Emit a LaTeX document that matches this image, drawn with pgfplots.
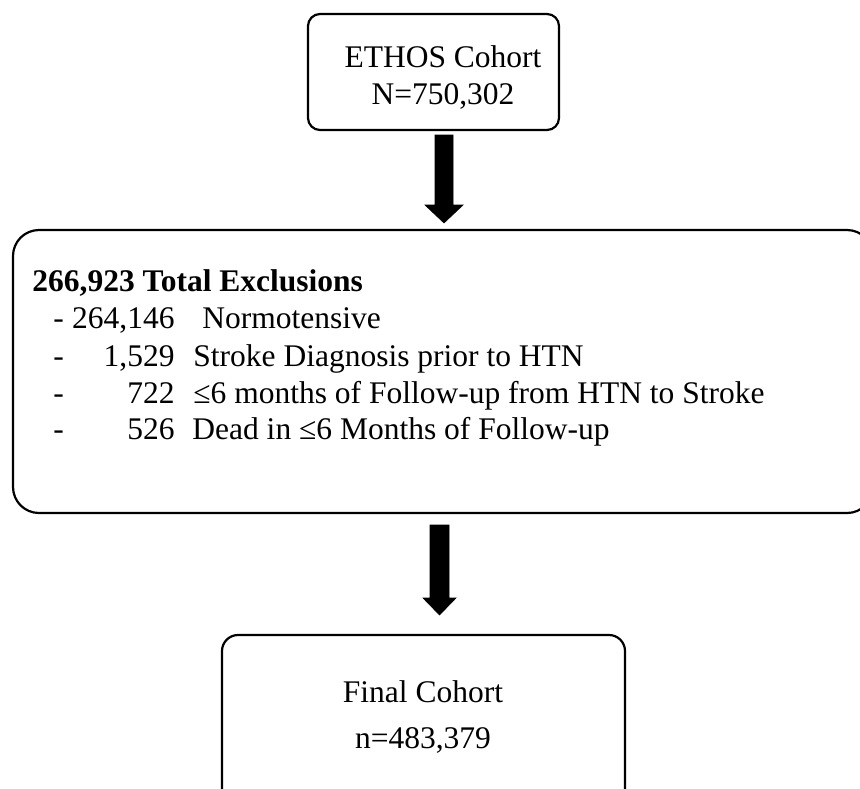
\documentclass[border=0pt]{standalone}
\usepackage{pgfplots}
\pgfplotsset{compat=1.18}
\usepackage{fontspec}
\setmainfont{Liberation Serif}
\begin{document}
\begin{tikzpicture}
\begin{axis}[
  width=430pt, height=394pt, scale only axis,
  xmin=0, xmax=860, ymin=0, ymax=788, y dir=reverse,
  hide axis, clip mode=global,
]
% bounding path
\path (axis cs:0,0) rectangle (axis cs:860,788);
% arrows
\addplot[fill=black, draw=black, line width=0.3pt] coordinates {
  (435,135) (453,135) (453,205) (463,205) (444,223) (425,205) (435,205) (435,135)} -- cycle;
\addplot[fill=black, draw=black, line width=0.3pt] coordinates {
  (430,525) (449,525) (449,598) (456,598) (439.5,615) (423,598) (430,598) (430,525)} -- cycle;
% boxes
\draw[line width=1.1pt, rounded corners=6pt] (axis cs:308,14) rectangle (axis cs:559,130);
\draw[line width=1.1pt, rounded corners=13pt] (axis cs:13,230) rectangle (axis cs:873,513);
\draw[line width=1.1pt, rounded corners=8pt] (axis cs:222,635) rectangle (axis cs:625,820);
% texts
\fontsize{15.75}{18}\selectfont
\node[anchor=base, inner sep=0pt] at (axis cs:443,67) {ETHOS Cohort};
\node[anchor=base, inner sep=0pt] at (axis cs:443,104) {N=750,302};
\node[anchor=base west, inner sep=0pt] at (axis cs:32,291) {\bfseries 266,923 Total Exclusions};
\node[anchor=base west, inner sep=0pt] at (axis cs:53,328) {-};
\node[anchor=base west, inner sep=0pt] at (axis cs:53,366) {-};
\node[anchor=base west, inner sep=0pt] at (axis cs:53,403) {-};
\node[anchor=base west, inner sep=0pt] at (axis cs:53,439) {-};
\node[anchor=base east, inner sep=0pt] at (axis cs:175,328) {264,146};
\node[anchor=base east, inner sep=0pt] at (axis cs:175,366) {1,529};
\node[anchor=base east, inner sep=0pt] at (axis cs:175,403) {722};
\node[anchor=base east, inner sep=0pt] at (axis cs:175,439) {526};
\node[anchor=base west, inner sep=0pt] at (axis cs:202,328) {Normotensive};
\node[anchor=base west, inner sep=0pt] at (axis cs:193,366) {Stroke Diagnosis prior to HTN};
\node[anchor=base west, inner sep=0pt] at (axis cs:193,403) {≤6 months of Follow-up from HTN to Stroke};
\node[anchor=base west, inner sep=0pt] at (axis cs:192,439) {Dead in ≤6 Months of Follow-up};
\node[anchor=base, inner sep=0pt] at (axis cs:423,702) {Final Cohort};
\node[anchor=base, inner sep=0pt] at (axis cs:423,748) {n=483,379};
\end{axis}
\end{tikzpicture}
\end{document}
